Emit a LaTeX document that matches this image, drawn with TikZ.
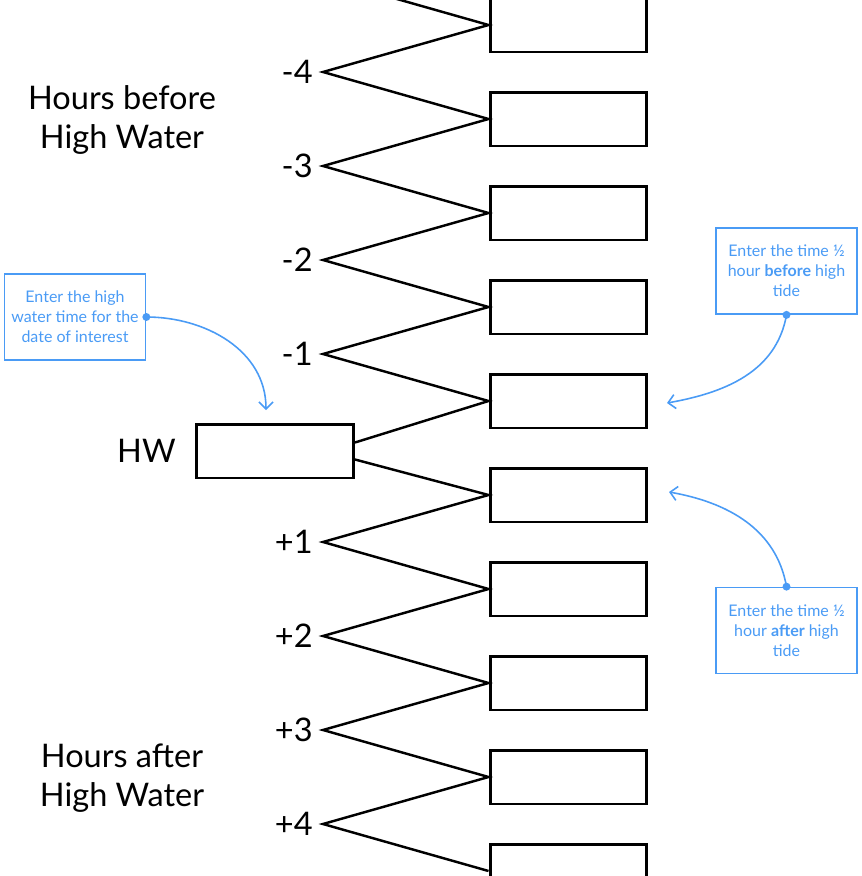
\documentclass[tikz,border=0pt]{standalone}
\usepackage{fontspec}
\setmainfont{Lato}
\usetikzlibrary{arrows.meta,positioning}
\definecolor{noteblue}{HTML}{4A9BF5}

\tikzset{
  slot/.style={draw, line width=1.7pt, minimum width=3.14cm, minimum height=1.08cm, inner sep=0pt},
  hourlabel/.style={font=\fontsize{18.5}{22}\selectfont, inner sep=0pt, align=center},
  note/.style={draw=noteblue, line width=1pt, text=noteblue, minimum width=2.82cm,
    minimum height=1.72cm, inner sep=0pt, align=center, font=\fontsize{9.1}{11.4}\selectfont},
  pointer/.style={noteblue, line width=0.9pt, -{Straight Barb[length=4pt,width=8pt]}},
  zigzag/.style={line width=1.4pt}
}

\begin{document}
\begin{tikzpicture}[x=0.02cm, y=0.02cm]
\useasboundingbox (0,0) rectangle (862,-876);
\clip (0,0) rectangle (862,-876);

% Cases horaires
\foreach \i in {0,...,9}
  \node[slot] (b\i) at (568.5,-25-94*\i) {};

% Pleine mer
\node[slot] (hw) at (275,-451) {};
\node[hourlabel, left=0.38cm of hw] {HW};

% Sommets et heures
\coordinate (m5) at (323,22);
\foreach \n in {1,...,4} {
  \coordinate (m\n) at (323,-72-94*4+94*\n);
  \node[hourlabel, left=0.2cm of m\n] {-\n};
  \coordinate (p\n) at (323,-542-94*\n+94);
  \node[hourlabel, left=0.2cm of p\n] {+\n};
}

% Zigzag
\draw[zigzag] (m5) -- (b0.west) -- (m4) -- (b1.west) -- (m3) -- (b2.west) -- (m2)
  -- (b3.west) -- (m1) -- (b4.west) -- ([yshift=0.17cm]hw.east);
\draw[zigzag] ([yshift=-0.17cm]hw.east) -- (b5.west) -- (p1) -- (b6.west) -- (p2)
  -- (b7.west) -- (p3) -- (b8.west) -- (p4) -- (b9.west);

% Titres
\node[hourlabel] (before) at (122,-120) {Hours before\\High Water};
\node[hourlabel] (after) at (122,-778) {Hours after\\High Water};

% Notes
\node[note] (hwnote) at (75,-317) {Enter the high\\water time for the\\date of interest};
\node[note] (beforenote) at (786.5,-271) {Enter the time ½\\hour \textbf{before} high\\tide};
\node[note] (afternote) at (786.5,-630.5) {Enter the time ½\\hour \textbf{after} high\\tide};

\coordinate (hwtip) at (266,-410);
\coordinate (beforetip) at (667,-403);
\coordinate (aftertip) at (669,-492);

\draw[pointer] (hwnote.east) to[out=0, in=90] (hwtip);
\draw[pointer] (beforenote.south) to[out=-100, in=10] (beforetip);
\draw[pointer] (afternote.north) to[out=100, in=-10] (aftertip);

\fill[noteblue] (hwnote.east) circle (0.08cm);
\fill[noteblue] (beforenote.south) circle (0.08cm);
\fill[noteblue] (afternote.north) circle (0.08cm);

\end{tikzpicture}
\end{document}
